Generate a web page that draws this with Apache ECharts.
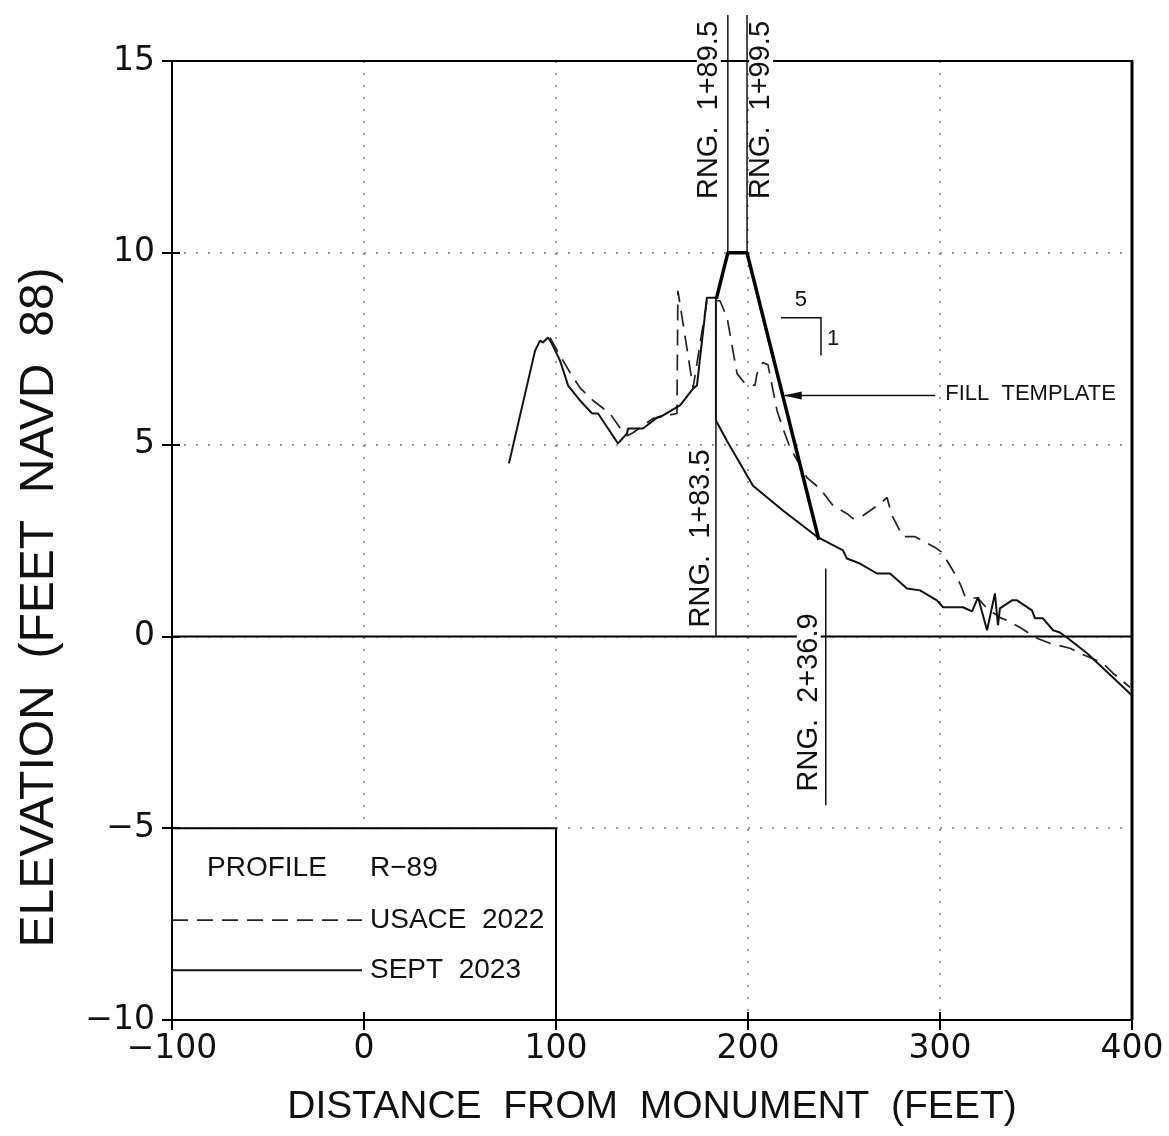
<!DOCTYPE html>
<html><head><meta charset="utf-8">
<script src="https://cdn.jsdelivr.net/npm/echarts@6/dist/echarts.min.js"></script>
<style>html,body{margin:0;padding:0;background:#fff}#c{width:1169px;height:1136px}</style>
</head><body><div id="c"></div>
<script>
const FONT = 'Liberation Sans';
const NUMFONT = 'DejaVu Sans';
// ---- data (feet) ----
const sept2023 = [[75.5,4.51],[89.1,7.45],[91.7,7.71],[93.2,7.66],[95.8,7.79],[97.9,7.63],[102.1,7.19],[106.3,6.54],[112.5,6.15],[118.8,5.81],[121.9,5.81],[132.3,5.03],[137,5.29],[137.5,5.42],[145.3,5.42],[152.6,5.70],[155.7,5.76],[164.6,6.02],[171.4,6.46],[173.4,6.54],[178.6,8.83],[183.3,8.83],[183.3,5.63],[189,5.10],[202.6,3.93],[218.2,3.28],[236.5,2.58],[249.5,2.24],[251.5,2.03],[258.3,1.90],[267.2,1.64],[274,1.64],[282.8,1.25],[289.6,1.20],[298.4,0.94],[301.6,0.76],[312,0.76],[316.7,0.65],[319.8,1.02],[324.5,0.16],[328.6,1.12],[330.2,0.29],[331.2,0.73],[337.5,0.94],[340.1,0.94],[347.9,0.68],[349.5,0.47],[353.6,0.47],[358.9,0.16],[362.5,0.10],[366.1,-0.03],[376.6,-0.44],[390.1,-1.07],[400,-1.54]];
const usace2022 = [[96.9,7.79],[102.1,7.32],[107.3,6.88],[112.5,6.48],[119.3,6.15],[128.1,5.81],[133.3,5.44],[137,5.23],[140.1,5.31],[150.5,5.68],[157.8,5.76],[163,5.81],[163.5,9.01],[171.4,6.48],[178.6,8.75],[185.4,8.75],[189.1,8.31],[194.3,6.85],[198.4,6.59],[203.6,6.54],[204.7,6.85],[207.8,7.14],[210.4,7.08],[215.1,5.89],[218.2,5.42],[221.9,4.92],[230.7,4.14],[237.5,3.85],[244.3,3.41],[251.6,3.20],[254.7,3.07],[259.9,3.15],[268.8,3.46],[272.4,3.62],[275,3.15],[280.7,2.60],[287,2.60],[297.4,2.32],[301,2.19],[308.9,1.54],[311.5,1.25],[313,1.04],[319.8,0.99],[324.5,0.73],[331.3,0.49],[334.9,0.42],[341.7,0.23],[350.5,-0.05],[357.3,-0.18],[367.7,-0.31],[372.9,-0.44],[384.9,-0.70],[390.1,-0.96],[399,-1.33]];
const fillTemplate = [[183.5,8.8],[189.5,10],[199.5,10],[236.9,2.52]];
const rangeNames = ['RNG.  1+89.5','RNG.  1+99.5','RNG.  1+83.5','RNG.  2+36.9'];
const rangeStations = [189.5,199.5,183.3,240.5];
const rangeFrom = [10,10,0,-4.4];
const rangeTo = [16.2,16.2,5.6,1.77];
const legendTitle = ['PROFILE','R\u221289'];
const seriesNames = ['USACE  2022','SEPT  2023'];
const xTitle = 'DISTANCE  FROM  MONUMENT  (FEET)';
const yTitle = 'ELEVATION  (FEET  NAVD  88)';
const slopeText = ['5','1'];
const fillLabel = 'FILL  TEMPLATE';

const fmt = v => v < 0 ? '\u2212' + Math.abs(v) : String(v);
const chart = echarts.init(document.getElementById('c'));
const rangeSeries = rangeStations.map((s,i) => ({
  type:'line', data:[[s,rangeFrom[i]],[s,rangeTo[i]]], symbol:'none', clip:false, z:3,
  lineStyle:{color:'#111', width:1.5}, silent:true
}));
const dotted = {show:true,lineStyle:{type:[2,10],color:'#999',width:2}};
const option = {
  animation:false,
  grid:{left:172,right:37,top:61,bottom:116,show:false},
  xAxis:[{
    type:'value',min:-100,max:400,interval:100,
    axisLine:{onZero:false,lineStyle:{color:'#000',width:2}},
    axisTick:{length:10,lineStyle:{color:'#000',width:2}},
    axisLabel:{fontSize:33,fontFamily:NUMFONT,color:'#111',margin:13,formatter:fmt},
    splitLine:dotted,
    name:xTitle,nameLocation:'middle',nameGap:68,
    nameTextStyle:{fontSize:39,fontFamily:FONT,color:'#111'}
  },{
    type:'value',min:-100,max:400,interval:100,position:'bottom',z:60,
    axisLine:{show:false,onZero:false},axisTick:{inside:true,length:8,lineStyle:{color:'#000',width:2}},
    axisLabel:{show:false},splitLine:{show:false}
  }],
  yAxis:[{
    type:'value',min:-10,max:15,interval:5,
    axisLine:{onZero:false,lineStyle:{color:'#000',width:2}},
    axisTick:{length:10,lineStyle:{color:'#000',width:2}},
    axisLabel:{fontSize:33,fontFamily:NUMFONT,color:'#111',margin:17,formatter:fmt},
    splitLine:dotted
  },{
    type:'value',min:-10,max:15,interval:5,position:'left',z:60,
    axisLine:{show:false,onZero:false},axisTick:{inside:true,length:8,lineStyle:{color:'#000',width:2}},
    axisLabel:{show:false},splitLine:{show:false}
  }],
  series:[
    {type:'line',data:[[-100,0],[400,0]],symbol:'none',z:0.8,lineStyle:{color:'#000',width:2},silent:true},
    {type:'line',name:seriesNames[0],data:usace2022,symbol:'none',z:2,lineStyle:{color:'#222',width:1.7,type:[16,9]}},
    {type:'line',name:seriesNames[1],data:sept2023,symbol:'none',z:2,lineStyle:{color:'#111',width:2}},
    {type:'line',name:'template',data:fillTemplate,symbol:'none',z:4,lineStyle:{color:'#000',width:3.5}},
    ...rangeSeries
  ]
};
chart.setOption(option);

const P = (x,y) => chart.convertToPixel({gridIndex:0},[x,y]);
const g = [];
const txt = (text,x,y,size,extra) => Object.assign({type:'text',x:x,y:y,z:40,
  style:Object.assign({text:text,font:size+'px "'+FONT+'"',fill:'#111',align:'left',verticalAlign:'middle'},extra||{})});
// plot frame
const fA = P(-100,15), fB = P(400,-10);
g.push({type:'rect',z:0.5,shape:{x:fA[0],y:fA[1],width:fB[0]-fA[0],height:fB[1]-fA[1]},style:{fill:null,stroke:'#000',lineWidth:2}});
g.push({type:'line',z:0.5,shape:{x1:fB[0],y1:fA[1],x2:fB[0],y2:fB[1]},style:{stroke:'#000',lineWidth:3}});
// y axis title
g.push({type:'text',x:fA[0]-132,y:(fA[1]+fB[1])/2+67,rotation:Math.PI/2,z:40,
  style:{text:yTitle,font:'48px "'+FONT+'"',fill:'#111',align:'center',verticalAlign:'middle'}});
// legend box
const bA = P(-100,-5), bB = P(100,-10);
g.push({type:'rect',z:50,shape:{x:bA[0],y:bA[1],width:bB[0]-bA[0],height:bB[1]-bA[1]},style:{fill:'#fff',stroke:'#000',lineWidth:2}});
const L = bA[0], T = bA[1];
g.push(Object.assign(txt(legendTitle[0],L+35,T+40,28),{z:55}));
g.push(Object.assign(txt(legendTitle[1],L+198,T+40,28),{z:55}));
g.push({type:'line',z:55,shape:{x1:L,y1:T+92,x2:L+190,y2:T+92},style:{stroke:'#222',lineWidth:1.7,lineDash:[16,9]}});
g.push(Object.assign(txt(seriesNames[0],L+198,T+92,28),{z:55}));
g.push({type:'line',z:55,shape:{x1:L,y1:T+142,x2:L+190,y2:T+142},style:{stroke:'#111',lineWidth:2}});
g.push(Object.assign(txt(seriesNames[1],L+198,T+142,28),{z:55}));
// range labels (rotated)
const gridTop = P(0,15)[1], zeroY = P(0,0)[1];
const labCenters = [gridTop+49, gridTop+49, zeroY-98, zeroY+66];
const labDx = [-19, 14, -15, -17];
rangeNames.forEach((n,i) => {
  const px = P(rangeStations[i],0)[0] + labDx[i];
  g.push({type:'text',x:px,y:labCenters[i],rotation:Math.PI/2,z:1,
    style:{text:n,font:'29px "'+FONT+'"',fill:'#111',align:'center',verticalAlign:'middle',
      backgroundColor:'#fff',padding:[0,3],lineHeight:24}});
});
// fill template arrow
const arrowY = 6.28;
const t2 = fillTemplate[2], t3 = fillTemplate[3];
const tipX = t2[0] + (t2[1]-arrowY)/(t2[1]-t3[1])*(t3[0]-t2[0]);
const tip = P(tipX,arrowY), tail = P(297.5,arrowY);
g.push({type:'line',z:5,shape:{x1:tip[0]+2,y1:tip[1],x2:tail[0],y2:tail[1]},style:{stroke:'#111',lineWidth:1.5}});
g.push({type:'polygon',z:5,shape:{points:[[tip[0]+1,tip[1]],[tip[0]+19,tip[1]-4],[tip[0]+19,tip[1]+4]]},style:{fill:'#111'}});
g.push(txt(fillLabel,tail[0]+10,tail[1]-2,22));
// slope indicator
const s1 = P(217.2,8.31), s2 = P(238,8.31), s3 = P(238,7.32);
g.push({type:'polyline',z:5,shape:{points:[s1,s2,s3]},style:{stroke:'#111',lineWidth:1.5,fill:null}});
g.push(txt(slopeText[0],(s1[0]+s2[0])/2,s1[1]-18,22,{align:'center'}));
g.push(txt(slopeText[1],s2[0]+6,(s2[1]+s3[1])/2+2,22));
chart.setOption({graphic:{elements:g}});
</script></body></html>
